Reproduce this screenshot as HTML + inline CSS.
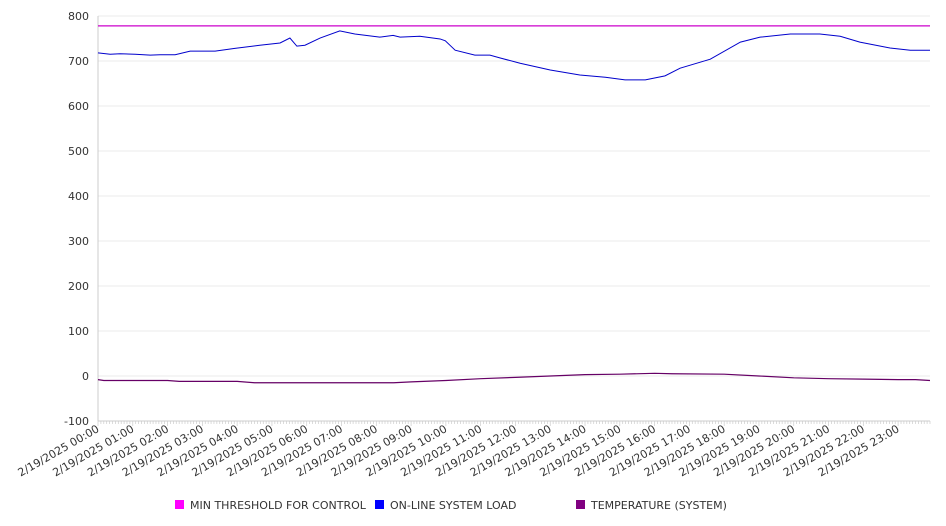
<!DOCTYPE html>
<html><head><meta charset="utf-8"><style>
body{margin:0;background:#fff;}
svg{display:block;font-family:"DejaVu Sans","Liberation Sans",sans-serif;}
</style></head><body>
<svg id="chart" width="946" height="526" xmlns="http://www.w3.org/2000/svg"></svg>
<script>
const yTicks=[800,700,600,500,400,300,200,100,0,-100];
const hourLabels=["00:00","01:00","02:00","03:00","04:00","05:00","06:00","07:00","08:00","09:00","10:00","11:00","12:00","13:00","14:00","15:00","16:00","17:00","18:00","19:00","20:00","21:00","22:00","23:00"];
const thresholdValue=778;
const loadMinutes=[0,21,38,64,90,107,133,159,202,236,279,314,331,343,357,383,417,443,486,509,521,555,590,599,616,650,676,693,728,780,831,875,909,944,978,1004,1056,1108,1142,1194,1245,1280,1314,1366,1401,1435];
const loadValues=[718,715,716,715,713,714,714,722,722,728,735,740,751,733,735,751,767,760,753,757,753,755,749,745,724,713,713,707,695,680,669,664,658,658,667,684,704,742,753,760,760,755,742,729,724,724];
const tempMinutes=[0,10,60,120,140,240,270,420,510,540,600,660,720,780,840,900,960,990,1080,1140,1200,1260,1320,1380,1410,1435];
const tempValues=[-8,-10,-10,-10,-12,-12,-15,-15,-15,-13,-10,-6,-3,0,3,4,6,5,4,0,-4,-6,-7,-8,-8,-10];

const svg=document.getElementById('chart');
const NS='http://www.w3.org/2000/svg';
const X0=98,X1=930,Y800=16,YM100=421;
const xs=m=>X0+m*(X1-X0)/1435;
const ys=v=>Y800+(800-v)*(YM100-Y800)/900;
function mk(t,a){const e=document.createElementNS(NS,t);for(const k in a)e.setAttribute(k,a[k]);svg.appendChild(e);return e;}

yTicks.forEach(v=>{
  const g=mk('line',{x1:X0,x2:X1,y1:ys(v),y2:ys(v),stroke:'#ebebeb','stroke-width':1});
  
  
  const t=mk('text',{x:89,y:ys(v)+4,'text-anchor':'end','font-size':11,fill:'#333'});
  t.textContent=v;
  
  
});
const ax=mk('line',{x1:X0,x2:X0,y1:Y800,y2:YM100,stroke:'#ccc'});


const bx=mk('line',{x1:X0,x2:X1,y1:YM100,y2:YM100,stroke:'#ccc'});


for(let m=0;m<=1435;m+=5){
  const tk=mk('line',{x1:xs(m),x2:xs(m),y1:YM100,y2:YM100+(m%60===0?5:3),stroke:'#ccc','stroke-width':0.7});
  
  
}
hourLabels.forEach((h,i)=>{
  const x=xs(i*60)+2,y=YM100+10;
  const t=mk('text',{x:x,y:y,'text-anchor':'end','font-size':11,fill:'#333',transform:`rotate(-30 ${x} ${y})`});
  t.textContent='2/19/2025 '+h;
  
  
});
const th=mk('line',{x1:X0,x2:X1,y1:ys(thresholdValue),y2:ys(thresholdValue),stroke:'#cc00cc','stroke-width':1.2});


const lp=mk('polyline',{points:loadMinutes.map((m,i)=>xs(m)+','+ys(loadValues[i])).join(' '),fill:'none',stroke:'#0000cc','stroke-width':1});


const tp=mk('polyline',{points:tempMinutes.map((m,i)=>xs(m)+','+ys(tempValues[i])).join(' '),fill:'none',stroke:'#660066','stroke-width':1.2});



const legend=[["MIN THRESHOLD FOR CONTROL","#ff00ff",175],["ON-LINE SYSTEM LOAD","#0000ff",375],["TEMPERATURE (SYSTEM)","#800080",576]];
legend.forEach(l=>{
  const r=mk('rect',{x:l[2],y:500,width:9,height:9,fill:l[1]});
  
  
  const t=mk('text',{x:l[2]+15,y:509,'font-size':11,fill:'#333'});
  t.textContent=l[0];
  
  
});
</script>
</body></html>
